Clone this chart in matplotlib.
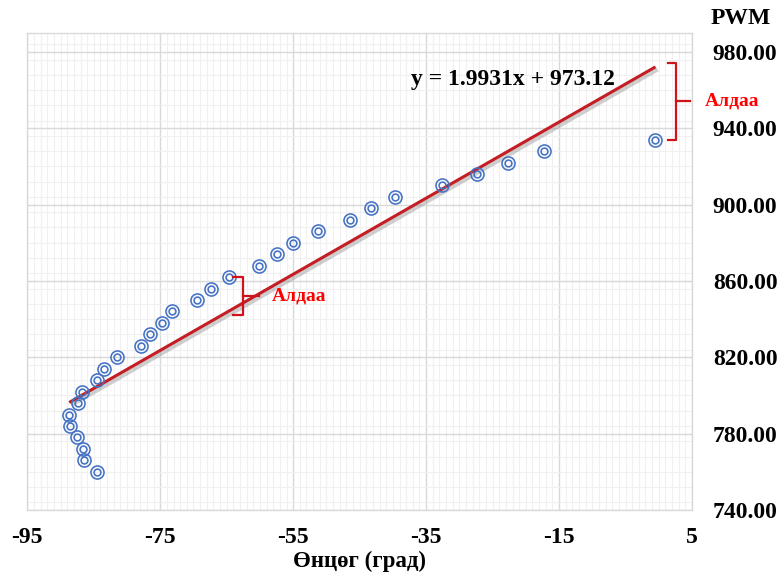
import matplotlib
matplotlib.use('Agg')
import matplotlib.pyplot as plt
import matplotlib.patheffects as pe
from matplotlib.ticker import MultipleLocator, FormatStrFormatter
import numpy as np

plt.rcParams['font.family'] = ['Liberation Serif', 'DejaVu Serif']
plt.rcParams['font.weight'] = 'bold'
plt.rcParams['axes.unicode_minus'] = False

# angle (deg) vs PWM readings
angle = [-84.5, -86.5, -86.6, -87.5, -88.6, -88.7, -87.4, -86.8, -84.5, -83.5,
         -81.5, -77.9, -76.6, -74.8, -73.3, -69.4, -67.4, -64.7, -60.2, -57.4,
         -55.1, -51.2, -46.4, -43.3, -39.7, -32.6, -27.4, -22.7, -17.2, -0.5]
pwm = [760, 766, 772, 778, 784, 790, 796, 802, 808, 814,
       820, 826, 832, 838, 844, 850, 856, 862, 868, 874,
       880, 886, 892, 898, 904, 910, 916, 922, 928, 934]

slope = 1.9931
intercept = 973.12

x_ticks = [-95, -75, -55, -35, -15, 5]
y_ticks = [740, 780, 820, 860, 900, 940, 980]

blue = '#4472C4'
red_line = '#C41E24'
red_mark = '#D0121B'


def bracket(ax, x, y0, y1, arm, tick):
    # square bracket opening to the left, with a tick pointing right
    ym = (y0 + y1) / 2
    ax.plot([x - arm, x, x, x - arm], [y0, y0, y1, y1], color=red_mark, lw=1.6,
            clip_on=False, zorder=5)
    ax.plot([x, x + tick], [ym, ym], color=red_mark, lw=1.6, clip_on=False, zorder=5)
    return ym


fig = plt.figure(figsize=(7.81, 5.75), dpi=100)
ax = fig.add_axes([0.035, 0.113, 0.851, 0.83])

ax.set_xlim(-95, 5)
ax.set_ylim(740, 990)
ax.xaxis.set_major_locator(MultipleLocator(20))
ax.xaxis.set_minor_locator(MultipleLocator(1))
ax.yaxis.set_major_locator(MultipleLocator(40))
ax.yaxis.set_minor_locator(MultipleLocator(8))
ax.set_xticks(x_ticks)
ax.set_yticks(y_ticks)
ax.yaxis.set_major_formatter(FormatStrFormatter('%.2f'))
ax.grid(which='major', color='#d9d9d9', lw=1.0)
ax.grid(which='minor', color='#f0f0f0', lw=0.8)
ax.set_axisbelow(True)
for s in ax.spines.values():
    s.set_color('#d9d9d9')
    s.set_linewidth(1.0)

ax.yaxis.tick_right()
ax.tick_params(which='both', length=0)
ax.tick_params(axis='y', labelsize=17, pad=15)
ax.tick_params(axis='x', labelsize=17, pad=12)
ax.set_xlabel('Өнцөг (град)', fontsize=16.5, fontweight='bold', labelpad=2)

# trend line
xs = np.array([min(angle), max(angle)])
ax.plot(xs, slope * xs + intercept, color=red_line, lw=2.2, solid_capstyle='butt',
        path_effects=[pe.SimpleLineShadow(offset=(1.2, -1.2), shadow_color='#888888',
                                          alpha=0.4, linewidth=4.5),
                      pe.Normal()], zorder=3)

# double-ring markers
ax.plot(angle, pwm, ls='none', marker='o', ms=9.4, mfc='none', mec=blue, mew=1.15, zorder=4)
ax.plot(angle, pwm, ls='none', marker='o', ms=4.9, mfc='none', mec=blue, mew=1.15, zorder=4)

ax.text(-22.0, 965.6, 'y = 1.9931x + 973.12', fontsize=17, fontweight='bold',
        ha='center', va='center')

# error brackets
last_fit = slope * angle[-1] + intercept
ym = bracket(ax, 2.6, last_fit + 2.0, pwm[-1], 1.2, 2.1)
ax.text(11.0, ym, 'Алдаа', color='#FF0000', fontsize=14, fontweight='bold',
        ha='center', va='center', clip_on=False)

i = 17
fit_i = slope * angle[i] + intercept
ym = bracket(ax, angle[i] + 2.2, pwm[i], fit_i - 2.0, 1.5, 2.4)
ax.text(angle[i] + 6.5, ym, 'Алдаа', color='#FF0000', fontsize=14, fontweight='bold',
        ha='left', va='center')

fig.text(0.949, 0.968, 'PWM', fontsize=17, fontweight='bold', ha='center', va='center')

fig.savefig('out.png', dpi=100)
